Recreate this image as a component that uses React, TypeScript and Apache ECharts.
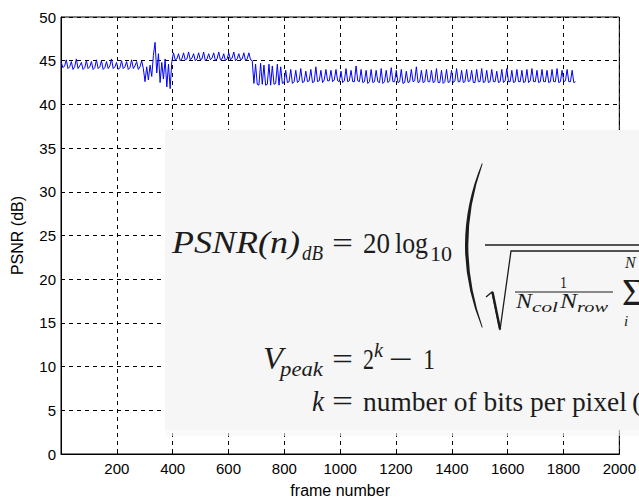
import React, { useEffect, useRef } from 'react';
import * as echarts from 'echarts';

// ---- data (PSNR per frame, sampled every 6 frames starting at frame 1) ----
const firstFrame = 1;
const frameStep = 6;

const psnrStart = [
  44.8, 44.2, 44.4, 45.1, 44.1, 44.3, 44.9, 44.0, 44.3, 45.2,
  44.1, 44.4, 44.8, 44.0, 44.2, 45.0, 44.1, 44.3, 44.9, 44.0,
  44.2, 45.1, 44.1, 44.3, 45.0, 44.0, 44.2, 44.9, 44.1, 44.4,
  45.2, 44.1, 44.3, 44.8, 44.0, 44.2, 45.0, 44.1, 44.3, 44.9,
  44.0, 44.2, 45.1, 44.1, 44.4, 44.9, 44.0, 44.3, 45.0, 44.1,
];

const psnrTransition = [
  42.6, 44.3, 42.8, 44.5, 43.2, 45.6, 47.1, 43.6, 45.8, 42.5,
  44.8, 42.9, 45.2, 42.0, 44.6, 41.8, 44.9,
];

const psnrMiddle = [
  45.9, 45.1, 45.2, 45.8, 45.0, 45.2, 45.9, 45.1, 45.2, 46.0,
  45.1, 45.3, 45.8, 45.0, 45.2, 45.9, 45.1, 45.2, 46.0, 45.0,
  45.2, 45.8, 45.1, 45.3, 45.9, 45.0, 45.2, 46.0, 45.1, 45.2,
  45.8, 45.0, 45.2, 45.9, 45.1, 45.3, 46.0, 45.0, 45.2, 45.8,
  45.1, 45.2, 45.9, 45.0, 45.2, 45.9, 45.1, 45.0,
];

const psnrDrop = [
  42.4, 44.6, 42.3, 42.2, 44.7, 42.3, 44.5, 42.2, 42.3, 44.6,
  42.2, 44.4, 42.3, 42.4, 44.6, 42.2, 44.3, 42.4, 42.5,
];

const psnrEnd = [
  43.9, 42.5, 42.6, 44.0, 42.4, 42.6, 43.9, 42.5, 42.7, 44.1, 42.5, 42.6,
  43.8, 42.6, 42.7, 44.0, 42.5, 42.6, 44.3, 42.6, 42.7, 43.9, 42.5, 42.8,
  44.0, 42.7, 42.7, 43.9, 42.6, 42.8, 44.0, 42.7, 42.6, 43.8, 42.5, 42.7,
  44.1, 42.6, 42.7, 43.9, 42.6, 42.6, 44.4, 42.7, 42.6, 44.0, 42.5, 42.6,
  43.9, 42.4, 42.6, 44.0, 42.5, 42.6, 43.9, 42.6, 42.5, 44.1, 42.4, 42.6,
  43.9, 42.5, 42.7, 44.2, 42.6, 42.6, 43.9, 42.5, 42.6, 44.0, 42.4, 42.5,
  43.8, 42.5, 42.6, 44.0, 42.6, 42.7, 44.3, 42.5, 42.6, 43.9, 42.5, 42.6,
  44.0, 42.6, 42.6, 43.9, 42.5, 42.6, 44.1, 42.5, 42.5, 43.9, 42.4, 42.6,
  44.0, 42.5, 42.6, 43.9, 42.5, 42.7, 44.1, 42.6, 42.6, 43.9, 42.5, 42.6,
  44.0, 42.6, 42.7, 43.9, 42.5, 42.5, 44.0, 42.6, 42.6, 44.1, 42.5, 42.6,
  43.9, 42.5, 42.6, 44.0, 42.6, 42.6, 43.8, 42.5, 42.6, 44.0, 42.5, 42.7,
  44.1, 42.6, 42.6, 43.9, 42.5, 42.6, 44.0, 42.6, 42.6, 43.9, 42.5, 42.6,
  44.0, 42.5, 42.7, 44.1, 42.6, 42.6, 43.9, 42.5, 42.6, 44.0, 42.6, 42.6,
  43.9, 42.5, 42.6, 44.0, 42.6, 42.6, 44.1, 42.5, 42.6, 43.9, 42.6, 42.7,
  44.0, 42.6, 42.6, 43.9, 42.5, 42.6,
];

const xMin = 0;
const xMax = 2000;
const xInterval = 200;
const yMin = 0;
const yMax = 50;
const yInterval = 5;

const xAxisTitle = 'frame number';
const yAxisTitle = 'PSNR (dB)';

// ---- overlay (formula picture) layout ----
type Piece = { t: string; x: number; b: number; s: number; it?: boolean; w?: number };
const formulaPieces: Piece[] = [
  { t: 'PSNR(n)', x: 172, b: 253, s: 32, it: true, w: 128 },
  { t: 'dB', x: 302, b: 260, s: 20, it: true, w: 21 },
  { t: '=', x: 332, b: 253, s: 30, w: 21 },
  { t: '20', x: 363, b: 253, s: 30, w: 27 },
  { t: 'log', x: 395, b: 253, s: 30, w: 33 },
  { t: '10', x: 430, b: 261, s: 20, w: 22 },
  { t: '1', x: 560, b: 288, s: 17, w: 7 },
  { t: 'N', x: 516, b: 308, s: 20, it: true, w: 16 },
  { t: 'col', x: 532, b: 312, s: 14, it: true, w: 26 },
  { t: 'N', x: 560, b: 308, s: 20, it: true, w: 17 },
  { t: 'row', x: 577, b: 312, s: 14, it: true, w: 31 },
  { t: 'N', x: 625, b: 268, s: 16, it: true },
  { t: 'Σ', x: 622, b: 305, s: 38 },
  { t: 'i', x: 624, b: 326, s: 15, it: true },
  { t: 'V', x: 263, b: 369, s: 31, it: true, w: 20 },
  { t: 'peak', x: 280, b: 376, s: 20, it: true, w: 43 },
  { t: '=', x: 332, b: 369, s: 30, w: 21 },
  { t: '2', x: 363, b: 369, s: 30, w: 11 },
  { t: 'k', x: 374, b: 357, s: 20, it: true, w: 9 },
  { t: '\u2212', x: 389, b: 369, s: 30, w: 24 },
  { t: '1', x: 423, b: 369, s: 30, w: 12 },
  { t: 'k', x: 312, b: 411, s: 30, it: true, w: 12 },
  { t: '=', x: 332, b: 411, s: 30, w: 21 },
  { t: 'number of bits per pixel', x: 363, b: 411, s: 28, w: 264 },
  { t: '(', x: 632, b: 411, s: 28 },
];

let shapeRegistered = false;

export default function App() {
  const ref = useRef<HTMLDivElement>(null);

  useEffect(() => {
    if (!ref.current) return;
    if (!shapeRegistered) {
      echarts.graphic.registerShape(
        'bigParen',
        echarts.graphic.extendPath('M 17 0 Q -17 82 17 165 L 17.6 164 Q -11 82 17.6 1 Z', {}) as any
      );
      shapeRegistered = true;
    }
    const chart = echarts.init(ref.current, undefined, { renderer: 'svg' });

    const values = [...psnrStart, ...psnrTransition, ...psnrMiddle, ...psnrDrop, ...psnrEnd];
    const data = values.map((v, i) => [firstFrame + i * frameStep, v]);

    const ctx = document.createElement('canvas').getContext('2d')!;
    const serif = '"Liberation Serif", "Times New Roman", serif';
    const ink = '#1c1c1c';
    const textEls = formulaPieces.map((p) => {
      const font = `${p.it ? 'italic ' : ''}${p.s}px ${serif}`;
      ctx.font = font;
      const mw = ctx.measureText(p.t).width;
      const sx = p.w && mw > 0 ? p.w / mw : 1;
      return {
        type: 'text',
        x: p.x,
        y: p.b - 0.3375 * p.s,
        scaleX: sx,
        z: 102,
        silent: true,
        style: {
          text: p.t,
          x: 0,
          y: 0,
          font,
          fill: ink,
          textAlign: 'left',
          textVerticalAlign: 'middle',
          verticalAlign: 'middle',
        },
      };
    });

    const overlay: any[] = [
      {
        type: 'rect',
        z: 100,
        silent: true,
        shape: { x: 165, y: 130, width: 480, height: 300 },
        style: { fill: '#f6f6f6' },
      },
      {
        type: 'rect',
        z: 100,
        silent: true,
        shape: { x: 165, y: 430, width: 480, height: 6 },
        style: { fill: 'rgba(246,246,246,0.6)' },
      },
      ...textEls,
      {
        type: 'bigParen',
        x: 465,
        y: 163,
        z: 102,
        silent: true,
        style: { fill: ink },
      },
      {
        type: 'line',
        z: 102,
        silent: true,
        shape: { x1: 485, y1: 245, x2: 645, y2: 245 },
        style: { stroke: ink, lineWidth: 1.3 },
      },
      {
        type: 'polyline',
        z: 102,
        silent: true,
        shape: { points: [[486, 297], [492, 292], [500, 330], [511, 251], [645, 251]] },
        style: { stroke: ink, lineWidth: 1.3, fill: null },
      },
      {
        type: 'line',
        z: 102,
        silent: true,
        shape: { x1: 492.5, y1: 292, x2: 500, y2: 329 },
        style: { stroke: ink, lineWidth: 2.4 },
      },
      {
        type: 'line',
        z: 102,
        silent: true,
        shape: { x1: 515, y1: 292, x2: 613, y2: 292 },
        style: { stroke: ink, lineWidth: 1 },
      },
    ];

    const labelFont = {
      fontFamily: '"Liberation Sans", Arial, sans-serif',
      fontSize: 15,
      color: '#000',
    };
    const plain = (v: number) => String(v);

    chart.setOption({
      animation: false,
      backgroundColor: '#fff',
      grid: {
        left: 61,
        right: 17,
        top: 17,
        bottom: 44,
        show: true,
        borderColor: '#000',
        borderWidth: 1,
        backgroundColor: 'transparent',
      },
      xAxis: {
        type: 'value',
        min: xMin,
        max: xMax,
        interval: xInterval,
        name: xAxisTitle,
        nameLocation: 'middle',
        nameGap: 28,
        nameTextStyle: { ...labelFont, fontSize: 16 },
        axisLine: { show: true, lineStyle: { color: '#000', width: 1 } },
        axisTick: { show: true, inside: true, length: 4, lineStyle: { color: '#000' } },
        axisLabel: { ...labelFont, margin: 7, showMinLabel: false, formatter: plain },
        splitLine: { show: true, lineStyle: { color: '#000', type: [4, 4], width: 1 } },
      },
      yAxis: {
        type: 'value',
        min: yMin,
        max: yMax,
        interval: yInterval,
        name: yAxisTitle,
        nameLocation: 'middle',
        nameGap: 36,
        nameTextStyle: { ...labelFont, fontSize: 16 },
        axisLine: { show: true, lineStyle: { color: '#000', width: 1 } },
        axisTick: { show: true, inside: true, length: 4, lineStyle: { color: '#000' } },
        axisLabel: { ...labelFont, margin: 5, formatter: plain },
        splitLine: { show: true, lineStyle: { color: '#000', type: [4, 4], width: 1 } },
      },
      series: [
        {
          type: 'line',
          data,
          showSymbol: false,
          symbol: 'none',
          lineStyle: { color: '#0000ff', width: 1 },
          z: 5,
        },
      ],
      graphic: { elements: overlay },
    });

    return () => {
      chart.dispose();
    };
  }, []);

  return (
    <div
      ref={ref}
      style={{ position: 'absolute', left: 0, top: 0, width: 639, height: 503, background: '#fff' }}
    />
  );
}
